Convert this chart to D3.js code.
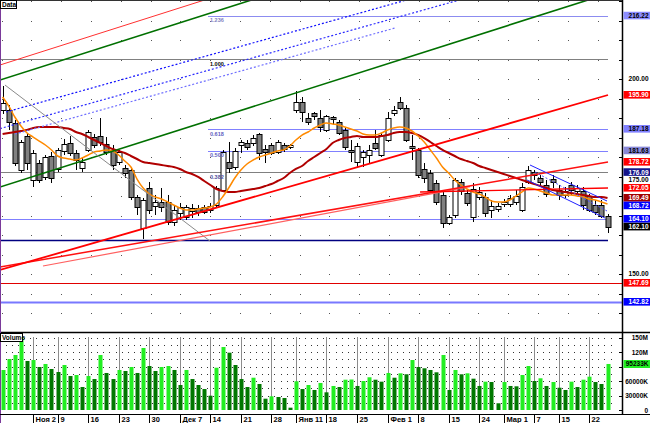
<!DOCTYPE html>
<html>
<head>
<meta charset="utf-8">
<script src="https://cdn.jsdelivr.net/npm/d3@7"></script>
<style>
  body { margin: 0; background: #fff; }
  svg { display: block; }
  text { font-family: "Liberation Sans", Arial, sans-serif; font-weight: bold; }
</style>
</head>
<body>
<svg id="chart" width="650" height="423"></svg>
<script>
// ---- daily bars (price) ----
const openP = [
  192.05,192.05,188.72,176.67,185.38,174.10,178.46,174.87,180.26,176.92,
  181.54,183.59,181.03,177.18,181.79,185.13,185.38,183.33,181.79,178.72,
  177.18,176.67,169.74,161.79,172.05,167.44,168.46,168.46,163.33,165.64,
  164.62,166.15,166.92,167.18,166.41,167.69,171.54,178.72,177.44,183.08,
  183.59,183.59,185.90,182.05,183.08,181.28,183.08,182.56,192.05,194.10,
  190.00,191.28,190.00,186.92,190.26,188.97,186.92,181.79,178.72,180.00,
  180.51,183.59,180.51,184.36,191.28,194.10,192.56,182.82,181.79,176.92,
  175.90,173.33,170.26,163.08,165.13,173.59,170.77,164.62,169.74,169.74,
  166.41,166.67,167.95,167.95,168.46,166.41,173.59,176.15,174.62,172.82,
  174.36,171.54,170.26,172.82,171.28,171.28,170.00,167.69,167.69,164.87
];
const highP = [
  198.21,193.33,189.49,184.36,186.15,181.79,179.23,180.51,181.28,182.31,
  184.62,185.38,181.79,179.74,186.92,185.90,190.00,185.13,183.08,181.79,
  177.95,177.18,170.26,169.49,173.59,170.26,172.05,170.26,167.44,168.21,
  167.69,167.95,167.69,167.69,168.21,172.56,181.79,183.85,182.31,184.36,
  184.36,185.64,186.15,183.08,183.59,184.36,183.59,183.33,196.92,195.38,
  191.28,191.54,192.05,190.77,190.51,189.49,187.44,184.36,183.59,181.79,
  183.08,186.92,186.15,191.54,193.08,195.38,193.33,185.64,182.31,178.46,
  176.67,174.10,171.03,165.13,174.62,174.36,171.54,173.33,172.31,170.77,
  168.97,168.21,169.23,170.26,171.54,173.33,177.69,176.67,175.38,174.10,
  175.38,172.82,172.31,173.59,172.82,172.31,170.51,168.97,168.97,165.38
];
const lowP = [
  191.03,186.92,177.69,175.90,176.67,172.31,173.33,174.10,173.33,176.15,
  180.51,180.26,176.67,176.15,181.28,182.31,182.82,180.51,176.67,177.95,
  174.62,168.97,165.13,158.97,165.38,165.13,165.90,162.56,162.31,163.85,
  163.85,164.36,164.87,165.38,165.64,167.18,171.03,175.90,176.67,181.03,
  181.79,182.82,179.23,178.46,180.51,180.77,181.28,182.05,191.28,188.97,
  188.21,189.49,186.41,186.41,188.21,185.64,181.79,178.72,177.18,177.44,
  178.46,181.79,180.00,183.85,190.51,192.05,183.85,179.23,174.62,173.33,
  171.03,167.69,161.79,162.56,164.36,170.26,167.44,163.33,168.97,164.62,
  164.36,165.90,167.18,167.18,167.69,165.90,173.08,174.10,172.56,169.74,
  172.05,168.97,169.49,170.26,170.26,166.41,165.90,165.13,164.36,160.51
];
const closeP = [
  193.85,188.97,178.46,183.85,178.46,181.03,174.10,180.00,174.62,181.79,
  183.33,181.03,179.23,178.72,186.41,183.08,183.85,181.28,177.95,181.28,
  175.90,169.74,167.18,168.97,166.41,168.46,167.18,163.33,166.41,167.18,
  167.18,166.92,165.90,165.90,167.44,172.05,181.28,177.18,181.54,183.85,
  182.56,184.87,181.03,181.28,181.03,183.85,182.05,183.08,194.10,191.54,
  188.97,190.51,187.69,190.51,189.74,186.15,182.56,181.28,182.82,181.28,
  181.79,182.31,185.64,190.00,192.05,192.56,184.36,182.31,175.38,174.62,
  171.54,168.46,163.08,164.62,174.10,171.28,168.21,171.79,171.03,165.64,
  167.44,167.44,168.46,169.49,170.00,172.31,176.67,175.38,173.59,170.51,
  173.59,170.26,171.28,171.54,172.05,167.69,166.41,165.90,164.87,162.10
];
// ---- volume, thousands ----
const volumeK = [
  82760,105520,113800,151000,101400,103400,89000,95200,84800,78600,
  93100,70300,72400,47600,70300,64100,113800,76600,64100,82800,
  80700,89000,76600,128300,91000,80700,89000,91000,82800,51700,
  82800,64100,51700,43400,29600,87500,130300,118600,93100,64100,
  47600,66800,53800,23400,28300,26900,24800,4800,59400,43400,
  51700,41400,55900,36600,49700,47600,62700,63100,49700,60000,
  67700,62700,58600,76600,66800,75900,73900,103400,89000,86300,
  82800,78000,113800,41400,82800,73900,75900,64800,49700,58600,
  57900,13900,57900,49700,49000,72400,91000,60000,65600,49700,
  57900,46100,41400,58600,47600,62700,68900,57900,53800,95233
];
// ---- moving averages ----
const maFast = [
  195.39,193.08,190.26,187.95,186.15,185.13,184.10,183.08,181.80,180.26,
  179.75,179.49,179.23,179.75,180.52,181.29,181.54,181.80,181.54,180.52,
  178.98,177.44,174.36,172.05,170.52,169.75,169.24,168.47,167.70,166.93,
  166.41,166.41,166.67,166.93,167.18,167.95,169.75,172.05,174.62,176.67,
  178.21,179.23,180.00,180.52,181.03,181.54,181.80,182.82,184.36,185.64,
  186.41,187.44,188.21,188.72,188.46,188.21,187.70,187.18,186.67,185.90,
  185.64,185.64,186.16,186.93,187.44,187.70,187.44,186.67,185.39,183.85,
  181.80,179.75,177.44,175.90,174.11,172.82,171.80,171.03,170.52,169.75,
  168.72,168.47,168.47,168.98,170.00,171.03,172.05,171.80,171.29,170.77,
  170.26,170.26,170.26,170.26,170.00,169.75,169.24,168.98,168.47,167.95
];
const maSlow = [
  185.90,186.16,186.41,186.67,186.93,187.44,187.70,187.70,187.70,187.70,
  187.44,187.18,186.41,185.90,185.13,184.36,183.59,182.82,182.05,181.54,
  181.03,180.26,179.49,178.72,178.46,178.21,177.95,177.70,177.44,176.93,
  176.16,175.65,174.88,173.85,172.82,171.80,171.29,171.03,171.03,171.29,
  171.54,171.80,172.05,172.57,173.08,173.85,174.62,175.90,176.93,177.70,
  178.98,180.00,181.03,182.05,183.59,184.36,184.87,185.13,185.39,185.13,
  185.13,185.13,185.39,185.64,186.16,186.41,186.41,186.16,185.64,184.87,
  183.85,182.82,181.80,181.03,180.26,179.49,178.98,178.46,177.70,177.18,
  176.67,176.16,175.65,175.13,174.62,174.11,173.59,173.08,172.57,172.05,
  171.54,171.29,171.03,170.77,170.52,170.26,170.00,169.75,169.75,169.49
];
// ---- date axis ----
const tickIndex  = [5, 9, 14, 19, 24, 29, 34, 39, 44, 48, 53, 58, 63, 68, 73, 78, 82, 87, 91, 96];
const tickLabels = ["Ноя 2","9","16","23","30","Дек 7","14","21","28","Янв 11","18","25","Фев 1","8","15","24","Мар 1","7","15","22"];
const priceLabelTicks = [150, 175, 200];
const volumeTicks = [0, 30000, 60000, 90000, 120000, 150000];
// ---- Fibonacci grid ----
const fibBase = 158.14, fibTop = 205.13;
const fibLevels = [1.236, 1.000, 0.618, 0.500, 0.382];
// ---- horizontal levels ----
const levelBlue = 164.10, levelNavy = 158.72, levelRed = 147.69, levelBlue2 = 142.82;
// ---- trend lines: [index0, price0, index1, price1] ----
const lineTopRed   = [-0.43, 203.59, 37.22, 222.34];
const lineGreenUp  = [-0.43, 199.75, 43.76, 221.77];
const lineGreenLow = [-0.43, 172.31, 99.41, 222.05];
const lineDot1 = [0.56, 191.54, 66.69, 220.52];
const lineDot2 = [-0.43, 187.28, 75.68, 220.67];
const lineDot3 = [2.03, 185.90, 64.22, 213.08];
const lineGray = [0.39, 198.46, 33.94, 158.46];
const lineRedA = [-0.43, 151.03, 99.08, 195.90];
const lineRedB = [-0.43, 151.80, 99.08, 178.72];
const lineRedC = [6.61, 152.05, 76.50, 172.41];
const lineRedD = [68.32, 171.03, 99.08, 172.05];
const chanUpper = [86.32, 177.95, 98.92, 168.72];
const chanLower = [85.83, 174.11, 98.59, 164.36];
const chanMid   = [87.14, 176.16, 98.92, 166.16];

// ---- layout ----
const svg = d3.select("#chart");
const axisX = 622, priceBottom = 332, volBase = 410, dateAxisY = 414.5;

const x  = d3.scaleLinear().domain([0, 99]).range([2.6, 607.5]);
const y  = d3.scaleLinear().domain([135.13, 220.26]).range([priceBottom, 0]);
const yv = d3.scaleLinear().domain([0, 150000]).range([volBase, 337.5]);
const fibPrice = l => fibBase + l * (fibTop - fibBase);
const px = i => Math.round(x(i)) + 0.5;

svg.append("rect").attr("width", 650).attr("height", 423).attr("fill", "#fff");

const defs = svg.append("defs");
defs.append("clipPath").attr("id", "priceClip")
  .append("rect").attr("x", 0).attr("y", 0).attr("width", axisX).attr("height", priceBottom);

const main = svg.append("g").attr("clip-path", "url(#priceClip)");

// dotted lattice of the price panel
const dotCols = d3.range(0, 21).map(k => 1.5 + 29.8 * k).filter(v => v < 610);
const dotRows = d3.range(140, 221, 5);
dotRows.forEach(p => {
  main.append("g").selectAll("rect").data(dotCols).join("rect")
    .attr("x", d => Math.round(d)).attr("y", Math.round(y(p)))
    .attr("width", 1).attr("height", 1).attr("fill", "#555");
});

// horizontal levels
function hline(g, p, x0, x1, color, w, dash) {
  const l = g.append("line")
    .attr("x1", x0).attr("x2", x1)
    .attr("y1", Math.round(y(p)) + 0.5).attr("y2", Math.round(y(p)) + 0.5)
    .attr("stroke", color).attr("stroke-width", w);
  if (dash) l.attr("stroke-dasharray", dash);
  return l;
}
hline(main, levelBlue, 0, 608, "#7f7fff", 1);
hline(main, levelNavy, 0, 608, "#000080", 1.3);
hline(main, levelRed, 0, axisX, "#e00000", 1.2);
hline(main, levelBlue2, 0, axisX, "#7878ff", 2);

// Fibonacci levels
const fibStyle = {
  "1.236": { c: "#8c8cf0", start: 208, lc: "#8080c0" },
  "1.000": { c: "#808080", start: 0,   lc: "#000" },
  "0.618": { c: "#8080ff", start: 208, lc: "#6060c0" },
  "0.500": { c: "#8080ff", start: 208, lc: "#6060c0" },
  "0.382": { c: "#808080", start: 0,   lc: "#5050a0" }
};
fibLevels.forEach(l => {
  const key = l.toFixed(3);
  const st = fibStyle[key];
  hline(main, fibPrice(l), st.start, 608, st.c, 1.2);
});

// candles
const candles = main.append("g");
d3.range(openP.length).forEach(i => {
  const cx = px(i);
  candles.append("line")
    .attr("x1", cx).attr("x2", cx)
    .attr("y1", y(highP[i])).attr("y2", y(lowP[i]))
    .attr("stroke", "#000").attr("stroke-width", 1);
  const top = y(Math.max(openP[i], closeP[i]));
  const bot = y(Math.min(openP[i], closeP[i]));
  candles.append("rect")
    .attr("x", cx - 2.5).attr("y", Math.round(top) + 0.5)
    .attr("width", 5).attr("height", Math.max(1, Math.round(bot - top)))
    .attr("fill", closeP[i] >= openP[i] ? "#fff" : "#808080")
    .attr("stroke", "#000").attr("stroke-width", 1);
});

// moving averages
const maLine = d3.line().x((d, i) => x(i)).y(d => y(d)).curve(d3.curveMonotoneX);
main.append("path").attr("d", maLine(maSlow)).attr("fill", "none")
  .attr("stroke", "#b00000").attr("stroke-width", 2);
main.append("path").attr("d", maLine(maFast)).attr("fill", "none")
  .attr("stroke", "#ff8a00").attr("stroke-width", 1.5);

// trend lines
function seg(g, s, color, w, dash) {
  const l = g.append("line")
    .attr("x1", x(s[0])).attr("y1", y(s[1]))
    .attr("x2", x(s[2])).attr("y2", y(s[3]))
    .attr("stroke", color).attr("stroke-width", w);
  if (dash) l.attr("stroke-dasharray", dash);
  return l;
}
seg(main, lineTopRed, "#ff3030", 1);
seg(main, lineGreenUp, "#007000", 1.6);
seg(main, lineGreenLow, "#007000", 1.6);
seg(main, lineDot1, "#1010ff", 1.2, "2,2");
seg(main, lineDot2, "#2a2aff", 1.2, "2,2");
seg(main, lineDot3, "#7070ff", 1.2, "2,2");
seg(main, lineGray, "#8a8a8a", 1);
seg(main, lineRedC, "#ff6060", 1.2);
seg(main, lineRedB, "#ff1010", 1.5);
seg(main, lineRedA, "#ff0000", 1.8);
seg(main, lineRedD, "#ff0000", 1.3);
seg(main, chanUpper, "#2020ff", 1);
seg(main, chanLower, "#2020ff", 1);
seg(main, chanMid, "#5050ff", 1, "2,2");

// Fibonacci captions
fibLevels.forEach(l => {
  const key = l.toFixed(3);
  main.append("text").attr("x", 210).attr("y", y(fibPrice(l)) + 6.5)
    .attr("font-size", 5.5).attr("font-weight", "normal")
    .attr("fill", fibStyle[key].lc).text(key);
});

// ---- volume panel ----
const vol = svg.append("g");
const volRows = d3.range(15000, 150001, 15000);
volRows.forEach(v => {
  vol.append("g").selectAll("rect").data(d3.range(0, 100)).join("rect")
    .attr("x", i => Math.round(x(i) + 3)).attr("y", Math.round(yv(v)))
    .attr("width", 1).attr("height", 1).attr("fill", "#333");
});
vol.selectAll("line.vgrid").data(tickIndex).join("line")
  .attr("class", "vgrid")
  .attr("x1", i => px(i)).attr("x2", i => px(i))
  .attr("y1", 337).attr("y2", volBase)
  .attr("stroke", "#8c8c8c").attr("stroke-width", 1);
vol.selectAll("rect.bar").data(volumeK).join("rect")
  .attr("class", "bar")
  .attr("x", (d, i) => Math.round(x(i)) - 1.5)
  .attr("y", d => yv(d))
  .attr("width", 4)
  .attr("height", d => volBase - yv(d))
  .attr("fill", (d, i) => (i === 0 || d > volumeK[i - 1]) ? "#22ee22" : "#007800");

// ---- frames ----
svg.append("line").attr("x1", 0).attr("x2", 650).attr("y1", priceBottom + 0.5).attr("y2", priceBottom + 0.5)
  .attr("stroke", "#000").attr("stroke-width", 1.5);
svg.append("line").attr("x1", axisX + 0.5).attr("x2", axisX + 0.5).attr("y1", 0).attr("y2", dateAxisY)
  .attr("stroke", "#000").attr("stroke-width", 1.5);
svg.append("line").attr("x1", 0.5).attr("x2", 0.5).attr("y1", 0).attr("y2", 423)
  .attr("stroke", "#7a3a9a").attr("stroke-width", 1);
svg.append("line").attr("x1", 0).attr("x2", axisX).attr("y1", 0.5).attr("y2", 0.5)
  .attr("stroke", "#333").attr("stroke-width", 1);

// ---- date axis ----
svg.append("line").attr("x1", 0).attr("x2", 650).attr("y1", dateAxisY).attr("y2", dateAxisY)
  .attr("stroke", "#000").attr("stroke-width", 1);
const dAxis = svg.append("g");
tickIndex.forEach((ti, k) => {
  dAxis.append("line").attr("x1", px(ti)).attr("x2", px(ti))
    .attr("y1", dateAxisY).attr("y2", 423).attr("stroke", "#000").attr("stroke-width", 1);
  dAxis.append("text").attr("x", px(ti) + 2).attr("y", 422)
    .attr("font-size", 7.5).attr("fill", "#000").text(tickLabels[k]);
});

// ---- price axis ----
const pAxis = svg.append("g");
d3.range(140, 221, 5).forEach(p => {
  pAxis.append("line").attr("x1", axisX - 3).attr("x2", axisX)
    .attr("y1", Math.round(y(p)) + 0.5).attr("y2", Math.round(y(p)) + 0.5)
    .attr("stroke", "#000");
});

// right-hand value tags: plain scale labels and coloured markers, stacked so none collide
const tags = [];
priceLabelTicks.forEach(p => tags.push({ v: p, bg: null, fg: "#000" }));
tags.push({ v: fibPrice(1.236), bg: "#8c8cff", fg: "#000" });
tags.push({ v: lineRedA[3], bg: "#ff0000", fg: "#fff" });
tags.push({ v: fibPrice(0.618), bg: "#8080ff", fg: "#000" });
tags.push({ v: fibPrice(0.5), bg: "#8888d8", fg: "#000" });
tags.push({ v: lineRedB[3], bg: "#ff0000", fg: "#fff" });
tags.push({ v: fibPrice(0.382), bg: "#14148a", fg: "#fff" });
tags.push({ v: lineRedD[3], bg: "#ff0000", fg: "#fff" });
tags.push({ v: maSlow[maSlow.length - 1], bg: "#a00000", fg: "#fff" });
tags.push({ v: chanUpper[3], bg: "#0000ff", fg: "#fff" });
tags.push({ v: levelBlue, bg: "#0000ff", fg: "#fff" });
tags.push({ v: closeP[closeP.length - 1], bg: "#000", fg: "#fff" });
tags.push({ v: levelRed, bg: "#ff0000", fg: "#fff" });
tags.push({ v: levelBlue2, bg: "#0000ff", fg: "#fff" });
tags.forEach(t => t.cy = y(t.v));
tags.sort((a, b) => a.cy - b.cy);
for (let k = 1; k < tags.length; k++) {
  if (tags[k].cy - tags[k - 1].cy < 7.6) tags[k].cy = tags[k - 1].cy + 7.6;
}
tags.forEach(t => {
  if (t.bg) {
    pAxis.append("rect").attr("x", axisX + 1.5).attr("y", t.cy - 4)
      .attr("width", 650 - axisX - 1.5).attr("height", 7.6).attr("fill", t.bg);
  }
  pAxis.append("text").attr("x", 648.5).attr("y", t.cy + 2.4)
    .attr("text-anchor", "end").attr("font-size", 6.5).attr("fill", t.fg)
    .text(t.v.toFixed(2));
});

// ---- volume axis ----
const fmtVol = v => v === 0 ? "0" : (v >= 100000 ? (v / 1000) + "M" : v + "K");
const lastVol = volumeK[volumeK.length - 1];
volumeTicks.forEach(v => {
  pAxis.append("line").attr("x1", axisX - 3).attr("x2", axisX)
    .attr("y1", Math.round(yv(v)) + 0.5).attr("y2", Math.round(yv(v)) + 0.5).attr("stroke", "#000");
  if (Math.abs(yv(v) - yv(lastVol)) > 7) {
    pAxis.append("text").attr("x", 648).attr("y", yv(v) + 2.5)
      .attr("text-anchor", "end").attr("font-size", 6.5).attr("fill", "#000").text(fmtVol(v));
  }
});
pAxis.append("rect").attr("x", axisX + 1.5).attr("y", Math.round(yv(lastVol) - 4))
  .attr("width", 650 - axisX - 1.5).attr("height", 8).attr("fill", "#22ee22");
pAxis.append("text").attr("x", 648.5).attr("y", yv(lastVol) + 2.5)
  .attr("text-anchor", "end").attr("font-size", 6.5).attr("fill", "#000").text(lastVol + "K");

// ---- panel captions ----
function caption(x0, y0, w, label) {
  svg.append("rect").attr("x", x0 + 0.5).attr("y", y0 + 0.5).attr("width", w).attr("height", 8)
    .attr("fill", "#fff").attr("stroke", "#000").attr("stroke-width", 1);
  svg.append("text").attr("x", x0 + 2).attr("y", y0 + 7).attr("font-size", 6.5).attr("fill", "#000").text(label);
}
caption(0, 0, 16, "Data");
caption(0, 333, 22, "Volume");
</script>
</body>
</html>
